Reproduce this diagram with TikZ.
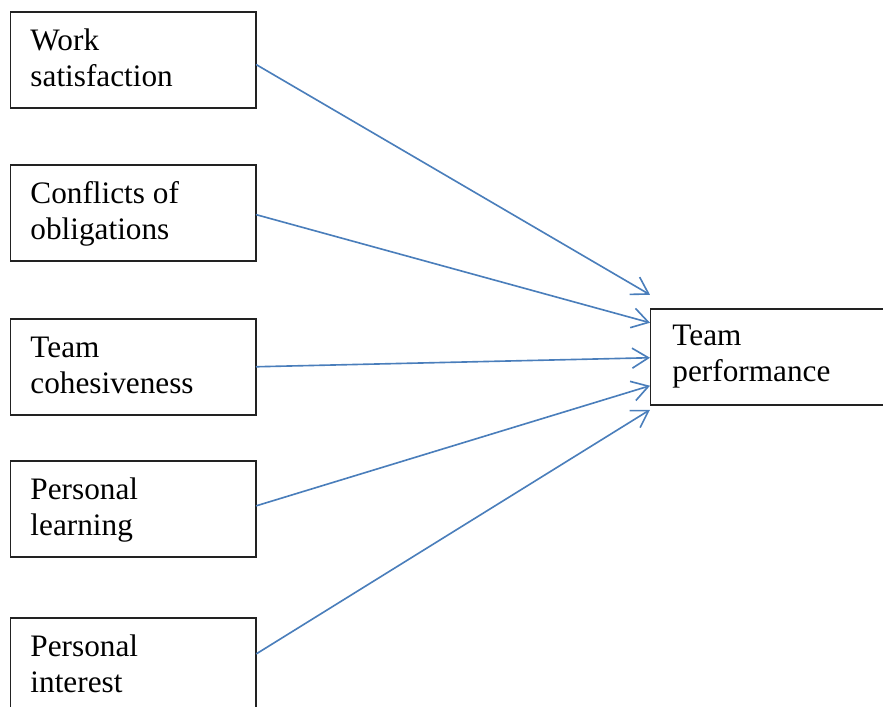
\documentclass[tikz,border=0pt]{standalone}
\usepackage{fontspec}
\setmainfont{Liberation Serif}
\usetikzlibrary{arrows.meta,calc}
\definecolor{linkblue}{HTML}{4A7EBB}
\definecolor{boxline}{HTML}{222222}
\begin{document}
\begin{tikzpicture}[x=0.4pt,y=-0.4pt,
  factor/.style={draw=boxline,line width=0.6pt,minimum width=98pt,minimum height=38.4pt,
    inner sep=0pt,anchor=north west},
  label text/.style={anchor=base west,align=left,inner sep=0pt,
    font=\fontsize{12.5pt}{14.4pt}\selectfont},
  link/.style={draw=linkblue,line width=0.65pt,line cap=round,
    -{Straight Barb[length=6.5pt,width=8pt,line width=0.65pt]}}]
\useasboundingbox (0,0) rectangle (883,707);
\clip (0,0) rectangle (883,707);

% predictor boxes
\node[factor] (b1) at (10,11) {};
\node[factor] (b2) at (10,164) {};
\node[factor] (b3) at (10,318) {};
\node[factor] (b4) at (10,460) {};
\node[factor] (b5) at (10,617) {};
% outcome box
\node[factor] (tp) at (650,308) {};

% box texts (anchored at the baseline of the second line)
\node[label text] at ($(b1.north west)+(20,75)$) {Work\\satisfaction};
\node[label text] at ($(b2.north west)+(20,75)$) {Conflicts of\\obligations};
\node[label text] at ($(b3.north west)+(20,75)$) {Team\\cohesiveness};
\node[label text] at ($(b4.north west)+(20,75)$) {Personal\\learning};
\node[label text] at ($(b5.north west)+(20,75)$) {Personal\\interest};
\node[label text] at ($(tp.north west)+(22,73)$) {Team\\performance};

% arrows into the outcome box
\draw[link] ($(b1.east)+(0,5)$) -- ($(tp.west)+(0,-62)$);
\draw[link] ($(b2.east)+(0,2)$) -- ($(tp.west)+(0,-34)$);
\draw[link] (b3.east) -- ($(tp.west)+(0,1)$);
\draw[link] ($(b4.east)+(0,-3)$) -- ($(tp.west)+(0,29)$);
\draw[link] ($(b5.east)+(0,-12)$) -- ($(tp.west)+(0,53)$);
\end{tikzpicture}
\end{document}
